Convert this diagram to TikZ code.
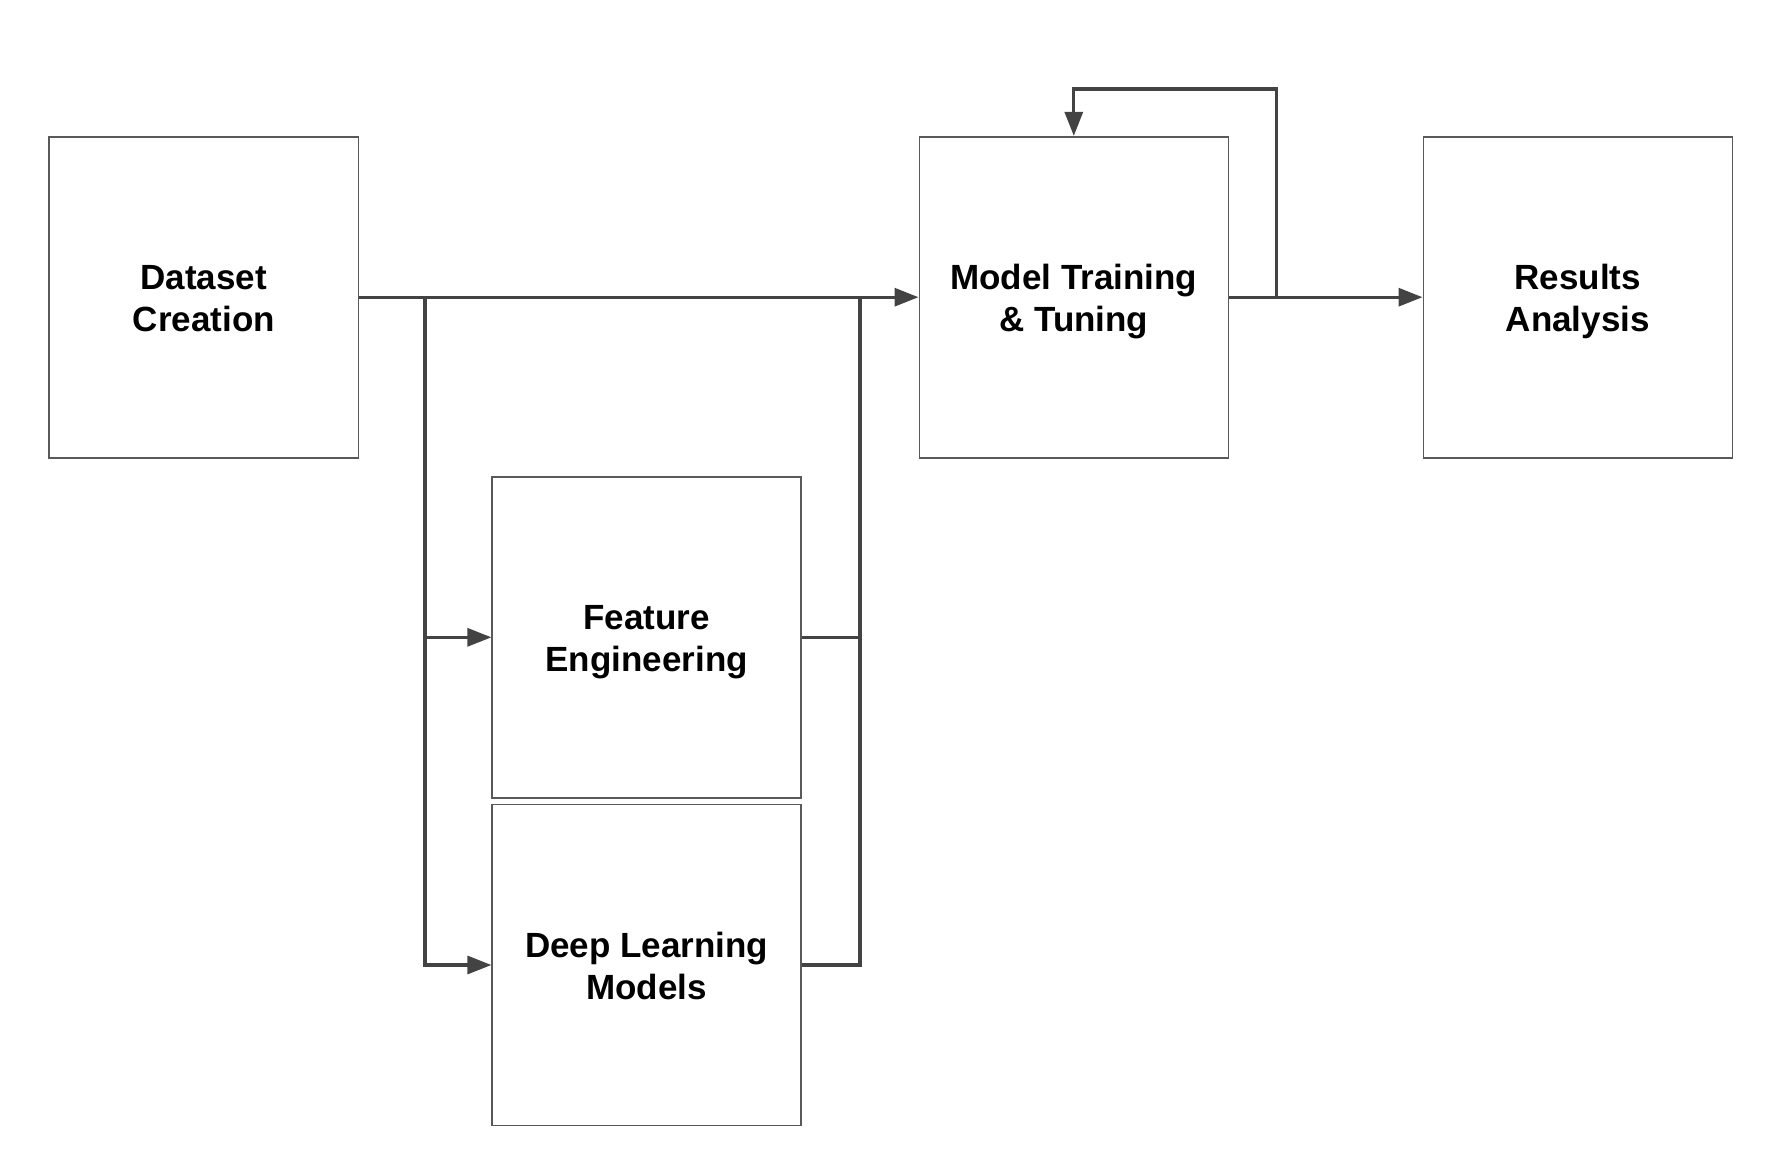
\documentclass[tikz,border=0pt]{standalone}
\usepackage{fontspec}
\setmainfont{Liberation Sans}
\usetikzlibrary{positioning,arrows.meta}
\definecolor{linegrey}{HTML}{434343}
\definecolor{boxgrey}{HTML}{595959}
\tikzstyle{block} = [draw=boxgrey, line width=0.8pt, fill=white, rectangle, minimum width=154.5pt, minimum height=160.5pt, align=center, text height=34.5pt, text depth=0pt, font=\fontsize{17.5}{21}\selectfont\bfseries]
\tikzstyle{link} = [draw=linegrey, line width=1.6pt]
\tikzstyle{arrow} = [link, -{Triangle[length=12pt,width=9pt]}]

\begin{document}
\begin{tikzpicture}[auto, node distance=252pt]
        \useasboundingbox (-101.9pt,-432.4pt) rectangle (784.1pt,148.6pt);

        \node [block] (data) {Dataset\\Creation};
        \node [block, right of=data, node distance=435pt] (mt) {Model Training\\\& Tuning};
        \node [block, right of=mt] (res) {Results\\Analysis};

        \node [block, below of=data, node distance=170.05pt, xshift=221.45pt] (fe) {Feature\\Engineering};
        \node [block, below of=fe, node distance=163.85pt] (dl) {Deep Learning\\Models};

        \node [coordinate, right of=data, node distance=110.6pt] (split) {};
        \node [coordinate, right of=split, node distance=217.5pt] (join) {};
        \node [coordinate, right of=mt, node distance=101.15pt] (tap) {};
        \node [coordinate, above of=mt, node distance=104.1pt] (top) {};

        \draw [arrow] (data) -- (mt);
        \draw [arrow] (split) |- (fe);
        \draw [arrow] (split) |- (dl);
        \draw [link] (fe) -| (join);
        \draw [link] (dl) -| (join);

        \draw [arrow] (mt) -- (res);
        \draw [arrow] (tap) |- (top) -- (mt);
    \end{tikzpicture}
\end{document}
